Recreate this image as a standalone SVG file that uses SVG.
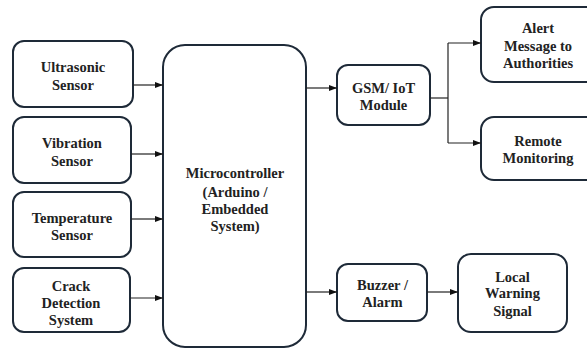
<svg xmlns="http://www.w3.org/2000/svg" width="587" height="349" viewBox="0 0 587 349">
  <defs>
    <marker id="arrow" markerWidth="8" markerHeight="6" refX="8" refY="3" orient="auto" markerUnits="userSpaceOnUse">
      <path d="M0,0 L8,3 L0,6 Z" fill="#111"/>
    </marker>
  </defs>
  <style>
    .box { fill: #fff; stroke: #1e2a38; stroke-width: 2; }
    .lbl { font-weight: 700; font-size: 14.5px; fill: #222; }
    .mid { text-anchor: middle; }
    .wire { fill: none; stroke: #222; stroke-width: 1.2; }
  </style>
  <rect width="587" height="349" fill="#fff"/>

  <g id="ultrasonic">
    <rect class="box" x="13" y="41" width="120" height="66" rx="11"/>
    <text class="lbl mid" x="73" y="72" font-family="Liberation Serif, serif">Ultrasonic</text>
    <text class="lbl mid" x="73" y="90" font-family="Liberation Serif, serif">Sensor</text>
  </g>
  <g id="vibration">
    <rect class="box" x="13" y="117" width="118" height="66" rx="11"/>
    <text class="lbl mid" x="72" y="148" font-family="Liberation Serif, serif">Vibration</text>
    <text class="lbl mid" x="72" y="166" font-family="Liberation Serif, serif">Sensor</text>
  </g>
  <g id="temperature">
    <rect class="box" x="13" y="192" width="118" height="65" rx="11"/>
    <text class="lbl mid" x="72" y="223" font-family="Liberation Serif, serif">Temperature</text>
    <text class="lbl mid" x="72" y="240" font-family="Liberation Serif, serif">Sensor</text>
  </g>
  <g id="crack">
    <rect class="box" x="13" y="268" width="117" height="64" rx="11"/>
    <text class="lbl mid" x="71" y="291" font-family="Liberation Serif, serif">Crack</text>
    <text class="lbl mid" x="71" y="308" font-family="Liberation Serif, serif">Detection</text>
    <text class="lbl mid" x="71" y="325" font-family="Liberation Serif, serif">System</text>
  </g>
  <g id="microcontroller">
    <rect class="box" x="163" y="45" width="143" height="302" rx="22"/>
    <text class="lbl mid" x="235" y="178" font-family="Liberation Serif, serif">Microcontroller</text>
    <text class="lbl mid" x="235" y="197" font-family="Liberation Serif, serif">(Arduino /</text>
    <text class="lbl mid" x="235" y="214" font-family="Liberation Serif, serif">Embedded</text>
    <text class="lbl mid" x="235" y="231" font-family="Liberation Serif, serif">System)</text>
  </g>
  <g id="gsm">
    <rect class="box" x="337" y="65" width="93" height="60" rx="11"/>
    <text class="lbl mid" x="383.5" y="93" font-family="Liberation Serif, serif">GSM/ IoT</text>
    <text class="lbl mid" x="383.5" y="110" font-family="Liberation Serif, serif">Module</text>
  </g>
  <g id="alert">
    <rect class="box" x="481" y="7" width="120" height="75" rx="13"/>
    <text class="lbl mid" x="538" y="33" font-family="Liberation Serif, serif">Alert</text>
    <text class="lbl mid" x="538" y="51" font-family="Liberation Serif, serif">Message to</text>
    <text class="lbl mid" x="538" y="68" font-family="Liberation Serif, serif">Authorities</text>
  </g>
  <g id="remote">
    <rect class="box" x="481" y="117" width="120" height="63" rx="13"/>
    <text class="lbl mid" x="538" y="146" font-family="Liberation Serif, serif">Remote</text>
    <text class="lbl mid" x="538" y="163" font-family="Liberation Serif, serif">Monitoring</text>
  </g>
  <g id="buzzer">
    <rect class="box" x="337" y="264" width="90" height="57" rx="11"/>
    <text class="lbl mid" x="382.5" y="290" font-family="Liberation Serif, serif">Buzzer /</text>
    <text class="lbl mid" x="382.5" y="307" font-family="Liberation Serif, serif">Alarm</text>
  </g>
  <g id="local">
    <rect class="box" x="458" y="254" width="109" height="78" rx="13"/>
    <text class="lbl mid" x="512.5" y="282" font-family="Liberation Serif, serif">Local</text>
    <text class="lbl mid" x="512.5" y="298" font-family="Liberation Serif, serif">Warning</text>
    <text class="lbl mid" x="512.5" y="316" font-family="Liberation Serif, serif">Signal</text>
  </g>

  <g id="connectors">
    <line class="wire" x1="133" y1="85" x2="163" y2="85" marker-end="url(#arrow)"/>
    <line class="wire" x1="131" y1="154" x2="163" y2="154" marker-end="url(#arrow)"/>
    <line class="wire" x1="131" y1="219" x2="163" y2="219" marker-end="url(#arrow)"/>
    <line class="wire" x1="130" y1="298" x2="163" y2="298" marker-end="url(#arrow)"/>
    <line class="wire" x1="306" y1="88" x2="337" y2="88" marker-end="url(#arrow)"/>
    <line class="wire" x1="306" y1="292" x2="337" y2="292" marker-end="url(#arrow)"/>
    <polyline class="wire" points="430,98 448,98"/>
    <polyline class="wire" points="448,43 448,143"/>
    <line class="wire" x1="448" y1="43" x2="481" y2="43" marker-end="url(#arrow)"/>
    <line class="wire" x1="448" y1="143" x2="481" y2="143" marker-end="url(#arrow)"/>
    <line class="wire" x1="427" y1="292" x2="458" y2="292" marker-end="url(#arrow)"/>
  </g>
</svg>
